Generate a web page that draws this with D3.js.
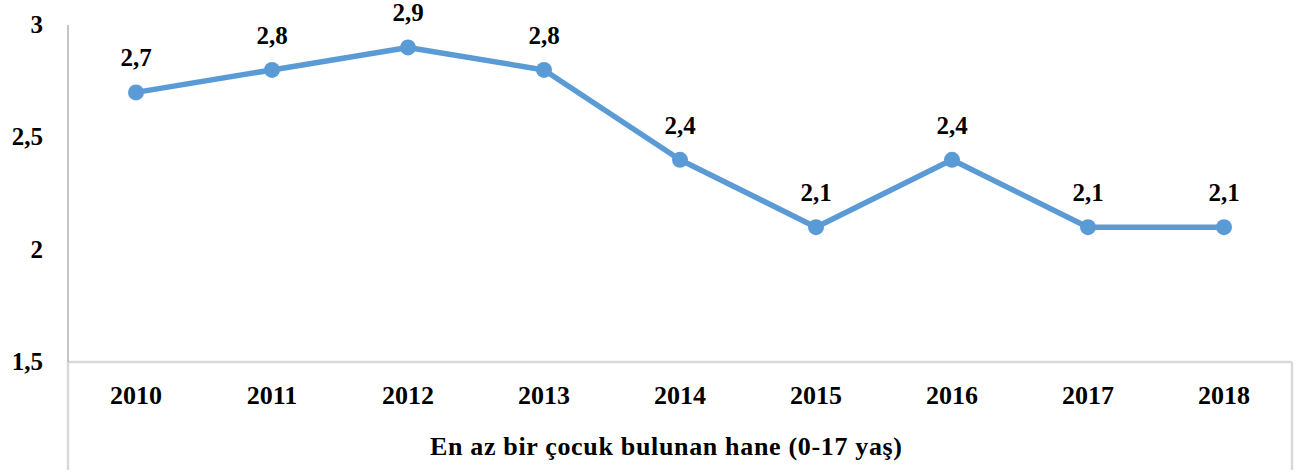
<!DOCTYPE html>
<html>
<head>
<meta charset="utf-8">
<script src="https://cdn.jsdelivr.net/npm/d3@7"></script>
<style>
  body { margin: 0; background: #fff; }
</style>
</head>
<body>
<div id="chart"></div>
<script>
const years = ["2010", "2011", "2012", "2013", "2014", "2015", "2016", "2017", "2018"];
const values = [2.7, 2.8, 2.9, 2.8, 2.4, 2.1, 2.4, 2.1, 2.1];
const yTicks = [1.5, 2, 2.5, 3];
const axisTitle = "En az bir çocuk bulunan hane (0-17 yaş)";

const width = 1296, height = 476;
const margin = { top: 25, left: 68, right: 4, bottom: 114 };
const plotW = width - margin.left - margin.right;
const plotH = height - margin.top - margin.bottom;
const font = "'Liberation Serif', 'DejaVu Serif', 'Times New Roman', Times, serif";

const fmt = (d) => String(d).replace(".", ",");

const svg = d3.select("#chart")
  .append("svg")
  .attr("width", width)
  .attr("height", height)
  .attr("font-family", font)
  .attr("font-weight", "bold")
  .attr("font-size", 25);

const g = svg.append("g")
  .attr("transform", "translate(" + margin.left + "," + margin.top + ")");

const x = d3.scaleBand().domain(years).range([0, plotW]);
const y = d3.scaleLinear().domain([1.5, 3]).range([plotH, 0]);

// category table lines below the axis
g.append("line")
  .attr("x1", 0).attr("x2", plotW)
  .attr("y1", plotH).attr("y2", plotH)
  .attr("stroke", "#d9d9d9").attr("stroke-width", 2.5);
g.append("line")
  .attr("x1", 0).attr("x2", 0)
  .attr("y1", plotH).attr("y2", plotH + 108)
  .attr("stroke", "#d9d9d9").attr("stroke-width", 2.5);
g.append("line")
  .attr("x1", plotW).attr("x2", plotW)
  .attr("y1", plotH).attr("y2", plotH + 108)
  .attr("stroke", "#d9d9d9").attr("stroke-width", 2.5);

// y axis
g.append("line")
  .attr("x1", 0).attr("x2", 0)
  .attr("y1", 0).attr("y2", plotH)
  .attr("stroke", "#8c8c8c").attr("stroke-width", 1);

g.selectAll("text.ytick")
  .data(yTicks)
  .enter()
  .append("text")
  .attr("class", "ytick")
  .attr("x", -25)
  .attr("y", (d) => y(d))
  .attr("dy", "0.32em")
  .attr("text-anchor", "end")
  .text(fmt);

// x labels
g.selectAll("text.xtick")
  .data(years)
  .enter()
  .append("text")
  .attr("class", "xtick")
  .attr("x", (d) => x(d) + x.bandwidth() / 2)
  .attr("y", plotH + 42)
  .attr("text-anchor", "middle")
  .attr("font-size", 26)
  .text((d) => d);

// axis title, stretched to the reference width
g.append("text")
  .attr("x", plotW / 2 - 14)
  .attr("y", plotH + 93)
  .attr("text-anchor", "middle")
  .attr("font-size", 26)
  .attr("textLength", 472)
  .attr("lengthAdjust", "spacing")
  .text(axisTitle);

// line
const line = d3.line()
  .x((d, i) => x(years[i]) + x.bandwidth() / 2)
  .y((d) => y(d));

g.append("path")
  .datum(values)
  .attr("fill", "none")
  .attr("stroke", "#5b9bd5")
  .attr("stroke-width", 5.5)
  .attr("stroke-linejoin", "round")
  .attr("d", line);

g.selectAll("circle.dot")
  .data(values)
  .enter()
  .append("circle")
  .attr("class", "dot")
  .attr("cx", (d, i) => x(years[i]) + x.bandwidth() / 2)
  .attr("cy", (d) => y(d))
  .attr("r", 8)
  .attr("fill", "#5b9bd5");

g.selectAll("text.lbl")
  .data(values)
  .enter()
  .append("text")
  .attr("class", "lbl")
  .attr("x", (d, i) => x(years[i]) + x.bandwidth() / 2)
  .attr("y", (d) => y(d) - 26)
  .attr("text-anchor", "middle")
  .text(fmt);
</script>
</body>
</html>
